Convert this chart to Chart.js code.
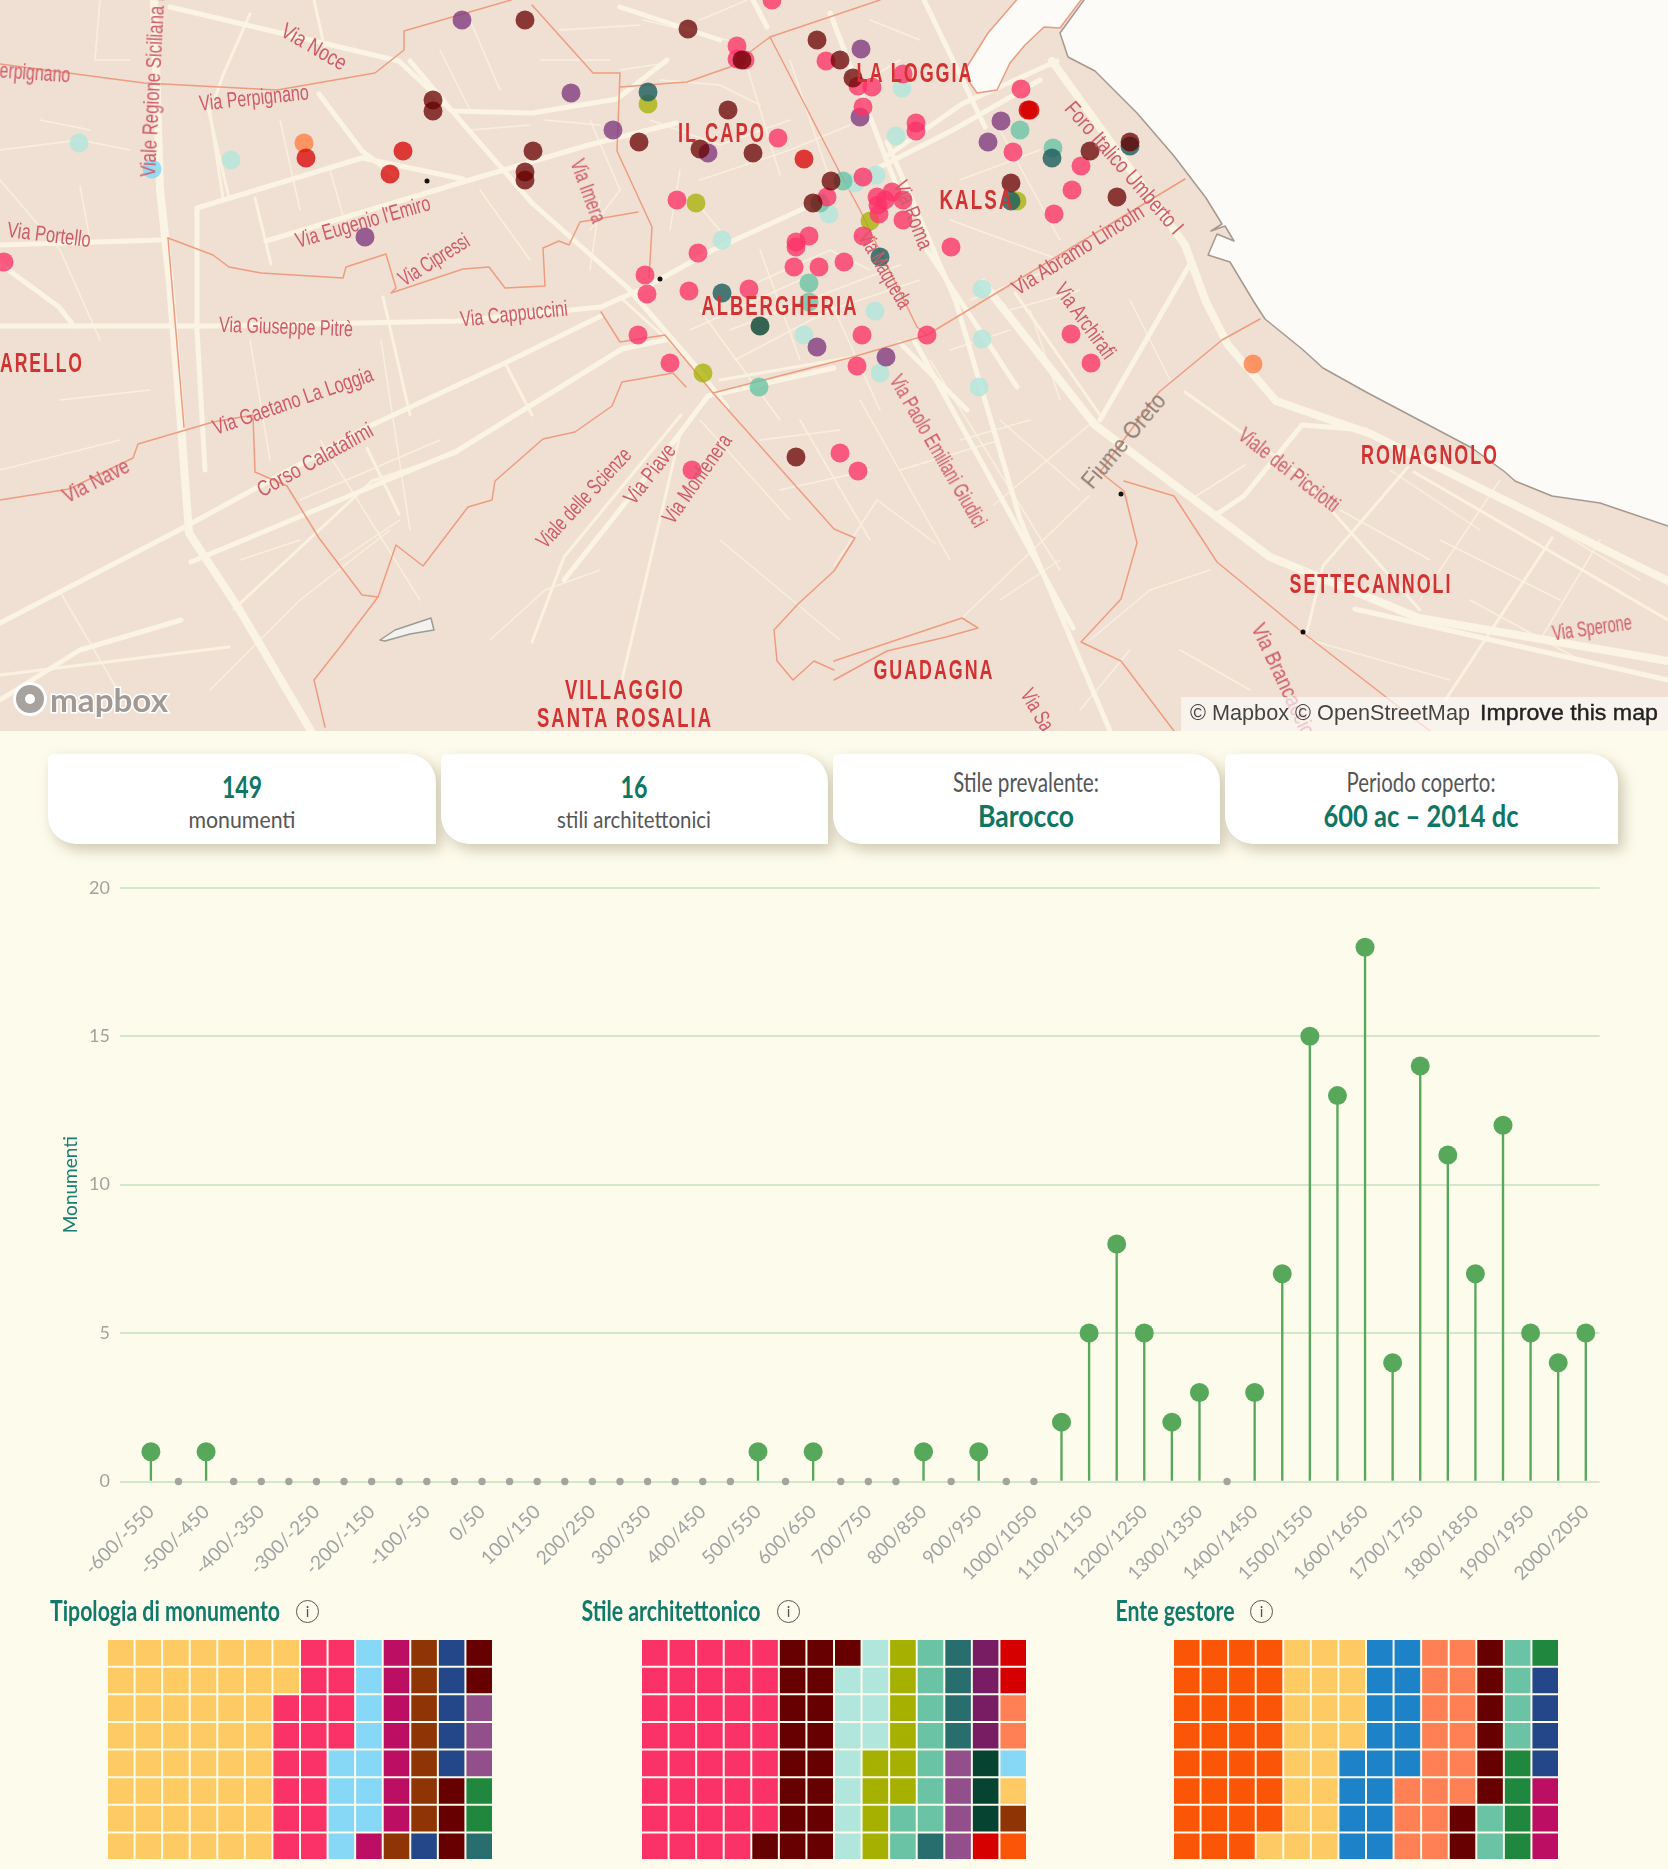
<!DOCTYPE html>
<html lang="it">
<head>
<meta charset="utf-8">
<title>Monumenti di Palermo</title>
<script src="https://cdn.jsdelivr.net/npm/chart.js@4/dist/chart.umd.min.js"></script>
<style>
  html, body { margin: 0; padding: 0; background: #fdfbec; }
  #pagina { position: relative; width: 1668px; height: 1869px; overflow: hidden; background: #fdfbec; }
  #mappa { position: absolute; left: 0; top: 0; width: 1668px; height: 731px; overflow: hidden; background: #f0e0d3; }
  canvas { position: absolute; display: block; }
  .t { position: absolute; white-space: nowrap; line-height: 1; }
  .card { position: absolute; top: 754px; height: 90px; background: #fff; border-radius: 6px 28px 0 28px; box-shadow: 5px 6px 14px rgba(120,105,70,.35); }
  .info { position: absolute; width: 21px; height: 21px; border: 1.5px solid #555; border-radius: 50%; color: #555; font: 15px Lato; text-align: center; line-height: 21px; }
  #attrib { position: absolute; left: 1181px; top: 697px; width: 487px; height: 34px; background: rgba(255,255,255,.62); }
  #logo { position: absolute; left: 13px; top: 682px; width: 34px; height: 34px; border-radius: 50%; background: #a9a39f; border: 3px solid #fff; box-sizing: border-box; }
  #logo:after { content: ""; position: absolute; left: 9px; top: 9px; width: 10px; height: 10px; background: #fff; border-radius: 50%; }
</style>
</head>
<body>
<div id="pagina">
  <div id="mappa">
    <canvas id="graficoMappa" width="1668" height="731" style="left:0;top:0"></canvas>
    <div id="logo"></div>
    <div id="attrib"></div>
  </div>
  <div class="card" style="left:48px;width:388px"></div>
  <div class="card" style="left:441px;width:387px"></div>
  <div class="card" style="left:833px;width:387px"></div>
  <div class="card" style="left:1225px;width:393px"></div>
  <canvas id="graficoSecoli" width="1573" height="734" style="left:40px;top:867px"></canvas>
  <canvas id="wafTipologia" width="386" height="221" style="left:107px;top:1639px"></canvas>
  <canvas id="wafStile" width="386" height="221" style="left:641px;top:1639px"></canvas>
  <canvas id="wafEnte" width="386" height="221" style="left:1173px;top:1639px"></canvas>
  <div class="info" style="left:296px;top:1600px">i</div>
  <div class="info" style="left:777px;top:1600px">i</div>
  <div class="info" style="left:1250px;top:1600px">i</div>
</div>
<script>
// --- dati lollipop ---
const periodi = ['-600/-550','-550/-500','-500/-450','-450/-400','-400/-350','-350/-300','-300/-250','-250/-200','-200/-150','-150/-100','-100/-50','-50/0','0/50','50/100','100/150','150/200','200/250','250/300','300/350','350/400','400/450','450/500','500/550','550/600','600/650','650/700','700/750','750/800','800/850','850/900','900/950','950/1000','1000/1050','1050/1100','1100/1150','1150/1200','1200/1250','1250/1300','1300/1350','1350/1400','1400/1450','1450/1500','1500/1550','1550/1600','1600/1650','1650/1700','1700/1750','1750/1800','1800/1850','1850/1900','1900/1950','1950/2000','2000/2050'];
const monumenti = [1,0,1,0,0,0,0,0,0,0,0,0,0,0,0,0,0,0,0,0,0,0,1,0,1,0,0,0,1,0,1,0,0,2,5,8,5,2,3,0,3,7,15,13,18,4,14,11,7,12,5,4,5];
const tickY = [0,5,10,15,20];

// --- dati waffle ---
const tipologiaConteggi = [50,18,11,8,8,6,5,3,2,1];
const tipologiaColori = ['#fdca63','#fb3268','#87d8f7','#bc0f64','#8e3405','#24478a','#670000','#924f8c','#1f883e','#296e6f'];
const stileConteggi = [39,18,11,10,9,5,4,4,3,3,2,1,1,1,1];
const stileColori = ['#fb3268','#670000','#b0e6dc','#a6b000','#6ac3a5','#296e6f','#924f8c','#781c64','#064331','#d70000','#ff8055','#87d8f7','#fdca63','#8e3405','#fb5607'];
const enteConteggi = [31,21,17,17,8,6,5,4,3];
const enteColori = ['#fb5607','#fdca63','#1e82c8','#ff8055','#670000','#6ac3a5','#1f883e','#24478a','#bc0f64'];

// --- punti mappa per stile ---
const puntiMarrone = [[525,20],[688,29],[817,40],[742,60],[840,60],[853,78],[728,110],[639,142],[700,149],[753,153],[533,151],[433,100],[433,111],[525,172],[525,180],[831,181],[813,203],[1011,183],[1090,151],[1130,142],[1117,197],[796,457]];
const puntiRosa = [[772,0],[737,46],[737,59],[745,60],[826,61],[858,86],[872,87],[903,74],[863,107],[916,123],[916,131],[1021,89],[1013,152],[778,138],[863,177],[827,197],[677,200],[1081,166],[1072,190],[1054,214],[951,247],[878,205],[879,214],[903,220],[877,197],[892,192],[903,200],[885,200],[863,236],[809,236],[796,242],[796,247],[794,267],[819,267],[844,262],[698,253],[645,275],[647,294],[689,291],[749,289],[638,335],[670,363],[862,335],[927,335],[857,366],[4,262],[692,470],[1071,334],[1091,363],[840,453],[858,471]];
const puntiRosso = [[403,151],[390,174],[306,158],[804,159]];
const puntiRossoCupo = [[1030,110],[1028,110]];
const puntiCorallo = [[304,143],[1253,364]];
const puntiViola = [[462,20],[571,93],[613,130],[365,237],[708,153],[861,49],[1001,121],[988,142],[817,347],[886,357],[860,117]];
const puntiOttanio = [[648,92],[722,293],[880,257],[1052,158],[1011,201],[1130,146]];
const puntiVerdeScuro = [[760,326]];
const puntiOliva = [[648,104],[696,203],[703,373],[870,221],[1017,201]];
const puntiMarino = [[809,283],[809,302],[759,387],[843,181],[1053,148],[1020,130],[820,203]];
const puntiAcqua = [[79,143],[231,160],[722,240],[829,214],[902,88],[896,136],[876,175],[855,183],[875,311],[804,335],[880,373],[979,387],[982,289],[982,339]];
const puntiCielo = [[152,169]];
const puntiNeri = [[427,181],[660,279],[1121,494],[1303,632]];

// --- geografia ---
const mare = [[1084,0],[1060,33],[1068,57],[1095,71],[1137,113],[1174,156],[1206,198],[1222,224],[1211,231],[1225,226],[1234,241],[1217,234],[1208,255],[1230,262],[1254,302],[1265,319],[1302,349],[1323,368],[1366,392],[1419,420],[1472,448],[1505,472],[1515,481],[1552,496],[1600,503],[1668,526],[1672,526],[1672,-4],[1084,-4]];
const porto = [[1020,-4],[988,33],[963,73],[977,93],[997,90],[1010,63],[1025,45],[1044,27],[1060,28],[1084,-4]];
const laghetto = [[380,640],[395,630],[431,618],[434,630],[410,634],[385,641]];
const stradeGrandi = [
  [[154,0],[160,189],[170,283],[181,425],[189,533],[239,609],[311,731]],
  [[983,283],[1095,425],[1270,557],[1419,618],[1668,661]],
  [[1052,61],[1185,245],[1206,302],[1228,345],[1276,401],[1371,434],[1668,581]]
];
const stradeMedie = [
  [[0,326],[213,326],[458,321],[601,307],[644,288],[713,250],[807,207]],
  [[0,623],[181,529],[372,425],[505,363],[601,316]],
  [[191,562],[457,451],[622,349],[665,340]],
  [[170,7],[399,61],[452,111],[532,113],[617,99],[667,60]],
  [[410,61],[452,111],[532,203],[628,288],[693,363],[727,407]],
  [[205,470],[197,330],[197,208],[362,158],[463,179]],
  [[266,241],[463,182],[585,146],[676,123]],
  [[564,580],[665,453],[708,396],[834,368]],
  [[887,156],[962,104],[1057,61]],
  [[880,167],[953,130],[1040,80]],
  [[887,142],[956,302],[1020,519],[1110,731]],
  [[924,0],[985,127]],
  [[914,340],[1073,628]],
  [[1100,420],[1190,264]],
  [[1217,514],[1244,496],[1302,425],[1366,430]],
  [[620,7],[720,40]],[[753,0],[767,27]],[[830,13],[897,187]],[[900,343],[967,410]],[[927,250],[1017,387]],
  [[0,700],[80,650],[181,620]],
  [[319,94],[362,151],[394,175]],[[0,245],[160,240]],[[0,264],[59,307],[74,326]],
  [[1355,609],[1668,680]]
];
const stradeStrette = [
  [[383,297],[410,415]],[[505,363],[532,415]],[[207,104],[229,198]],[[255,198],[271,264]],[[314,0],[325,50]],
  [[250,14],[223,75],[210,113],[223,198]],[[234,609],[372,481],[457,453]],[[399,514],[367,448]],[[0,675],[229,647]],
  [[1015,293],[1100,415]],[[532,642],[564,557],[681,415]],[[622,680],[681,430]],[[1185,392],[1297,472],[1420,610]],
  [[1408,467],[1323,566],[1307,632]],[[1552,538],[1446,699]],[[1414,472],[1668,620]],[[720,380],[853,357]],[[620,297],[693,363]]
];
const stradePiccole = [
  [[700,20],[747,0]],[[643,20],[727,40]],[[620,70],[667,63]],[[703,210],[730,243]],
  [[381,340],[410,530]],[[250,340],[270,460]],[[320,440],[420,600]],
  [[0,180],[60,250],[100,340]],[[300,500],[440,440]],[[60,400],[150,390]],[[0,470],[120,440]],
  [[390,530],[300,600],[210,690]],[[490,640],[545,590],[600,570]],[[720,540],[840,640]],
  [[660,80],[720,85],[760,105]],[[650,120],[720,145],[790,120]],[[700,180],[790,150],[850,125]],
  [[670,230],[680,170]],[[745,60],[780,175]],[[790,60],[830,180]],[[850,90],[900,60]],[[920,40],[870,20]],
  [[740,290],[830,250],[870,270]],[[730,330],[900,265]],[[735,360],[830,310],[920,280]],[[760,250],[800,360]],
  [[700,310],[780,420]],[[830,300],[880,410]],[[960,180],[1040,150]],[[950,220],[1060,260]],[[1000,130],[1060,240]],
  [[970,300],[1050,270]],[[1010,310],[1080,290]],[[1000,420],[1080,490]],[[860,400],[950,560]],[[930,360],[1060,570]],
  [[1090,640],[1150,590],[1210,570]],[[1180,650],[1250,690]],[[1440,540],[1560,600]],[[1500,480],[1420,600]],
  [[1600,540],[1540,640]],[[1310,640],[1450,680]],[[340,560],[400,520]],[[240,560],[300,540]],[[590,230],[620,190],[590,120]],
  [[80,186],[90,240]],[[0,150],[80,140],[130,150]],[[40,120],[90,130]],[[100,0],[95,60],[130,60]],[[280,120],[300,210]],[[330,170],[350,240]],
  [[59,590],[117,689]],[[877,500],[935,543]],[[877,500],[834,566]],[[994,505],[1095,420]],[[962,618],[1089,496]],[[480,190],[530,260]],
  [[560,30],[640,25]],[[540,60],[610,60]],[[470,20],[500,90]],[[440,50],[470,110]],[[545,120],[600,125]],[[470,130],[530,125]],
  [[600,200],[590,270]],[[690,330],[800,280]],[[700,420],[790,520]],[[800,420],[870,540]],[[760,440],[840,430]],[[780,490],[870,470]],
  [[960,440],[1030,420]],[[900,470],[1000,440]],[[950,350],[1010,330]],[[1030,310],[1060,400]],[[1130,300],[1170,380]],[[1190,500],[1245,465]],
  [[1340,510],[1430,560]],[[1390,470],[1480,530]],[[1470,600],[1580,660]],[[1540,520],[1640,580]],[[1080,710],[1130,650]],[[1000,600],[1060,560]]
];
const confini = [
  [[0,64],[144,83],[277,90],[375,73],[404,50],[404,31],[511,0]],
  [[532,5],[593,73],[620,73],[617,151],[652,227],[649,278]],
  [[620,87],[687,82],[730,67],[770,37],[880,0]],
  [[770,37],[840,173],[860,210],[917,327],[927,335]],
  [[713,393],[853,357],[927,335],[1013,283],[1185,179]],
  [[601,312],[620,342],[665,335],[713,393],[834,529],[855,538],[834,571],[798,604],[774,630],[777,661],[793,680],[814,661],[834,670]],
  [[168,238],[213,255],[229,267],[261,273],[343,278],[346,267],[386,254],[396,288],[391,293],[463,269],[489,267],[505,288],[545,286],[543,248],[559,241],[569,245],[580,222],[638,212]],
  [[168,238],[184,427]],
  [[0,500],[69,489],[133,458],[138,444],[213,422],[253,415],[255,472],[287,486],[319,538],[362,595],[378,597],[340,647],[314,680],[325,727]],
  [[378,597],[396,545],[423,566],[468,507],[492,500],[495,481],[543,439],[575,432],[612,406],[622,382],[673,373],[686,387]],
  [[1260,319],[1222,340],[1159,392],[1100,472],[1124,491],[1137,543],[1121,599],[1081,642],[1121,661],[1174,731]],
  [[1124,481],[1174,496],[1217,562],[1302,632],[1430,731]],
  [[834,661],[962,618],[978,628],[946,637],[887,651],[834,680]]
];

// --- etichette: testo, centro x, centro y, larghezza, angolo ---
const quartieri = [['ARELLO',42,363,84,0],['IL CAPO',722,133,88,0],['LA LOGGIA',915,73,117,0],['KALSA',977,200,75,0],['ALBERGHERIA',780,306,157,0],['ROMAGNOLO',1430,455,138,0],['SETTECANNOLI',1371,584,163,0],['GUADAGNA',934,670,121,0],['VILLAGGIO',625,690,120,0],['SANTA ROSALIA',625,718,176,0]];
const vie = [['erpignano',35,73,71,4],['Via Noce',314,47,72,30],['Viale Regione Siciliana M',153,82,190,-87],['Via Perpignano',254,98,110,-6],['Via Portello',49,235,84,7],["Via Eugenio l'Emiro",363,222,139,-16],['Via Cipressi',434,260,79,-32],['Via Imera',588,191,66,70],['Via Giuseppe Pitrè',286,327,134,2],['Via Cappuccini',514,314,108,-6],['Via Gaetano La Loggia',293,401,168,-19],['Via Nave',96,481,72,-27],['Corso Calatafimi',315,460,129,-29],['Viale delle Scienze',584,498,128,-47],['Via Piave',650,474,70,-52],['Via Monfenera',697,479,104,-55],['Via Roma',913,215,72,68],['Via Maqueda',885,270,85,60],['Foro Italico Umberto I',1124,168,168,49],['Via Abramo Lincoln',1078,250,151,-32],['Via Archirafi',1085,321,88,54],['Via Paolo Emiliani Giudici',938,451,172,60],['Viale dei Picciotti',1289,470,122,38],['Via Sperone',1592,628,80,-8],['Via Brancaccio',1283,680,122,65],['Via Sa',1037,710,45,60]];

// testo vero, posizionato per centro e adattato in larghezza
function testo(parent, str, cx, cy, larg, font, colore, angolo, extra) {
  const s = document.createElement('span');
  s.className = 't';
  s.textContent = str;
  s.style.font = font;
  s.style.color = colore;
  if (extra) Object.assign(s.style, extra);
  parent.appendChild(s);
  const k = larg / s.getBoundingClientRect().width;
  s.style.left = cx + 'px';
  s.style.top = cy + 'px';
  s.style.transform = `translate(-50%,-50%) rotate(${angolo || 0}deg) scaleX(${k})`;
  return s;
}

const pagina = document.getElementById('pagina');
const mappaDiv = document.getElementById('mappa');
const attrib = document.getElementById('attrib');

vie.forEach(v => testo(mappaDiv, v[0], v[1], v[2], v[3], "22px 'Liberation Sans Narrow','Liberation Sans'", '#cf5a69', v[4]));
testo(mappaDiv, 'Fiume Oreto', 1124, 441, 116, "23px 'Liberation Sans Narrow','Liberation Sans'", '#8b7b72', -50);
quartieri.forEach(q => testo(mappaDiv, q[0], q[1], q[2], q[3], "bold 27px 'Liberation Sans Narrow','Liberation Sans'", '#d23232', q[4], { letterSpacing: '3px' }));
testo(mappaDiv, 'mapbox', 109, 699, 118, 'bold 33px Lato', '#a09a96', 0, { webkitTextStroke: '3px #fff', paintOrder: 'stroke fill' });
mappaDiv.appendChild(attrib);
testo(mappaDiv, '© Mapbox © OpenStreetMap', 1330, 713, 280, "22px 'Liberation Sans'", '#444', 0);
testo(mappaDiv, 'Improve this map', 1569, 713, 178, "22px 'Liberation Sans'", '#222', 0, { webkitTextStroke: '.4px #222' });

// card riassuntive
const verde = '#0f7663', grigioCard = '#565656';
testo(pagina, '149', 242, 786, 40, 'bold 30px Lato', verde);
testo(pagina, 'monumenti', 242, 819, 107, '23px Lato', grigioCard);
testo(pagina, '16', 634, 786, 27, 'bold 30px Lato', verde);
testo(pagina, 'stili architettonici', 634, 818, 154, '24px Lato', grigioCard);
testo(pagina, 'Stile prevalente:', 1026, 782, 146, '26px Lato', grigioCard);
testo(pagina, 'Barocco', 1026, 815, 96, 'bold 30px Lato', verde);
testo(pagina, 'Periodo coperto:', 1421, 782, 149, '26px Lato', grigioCard);
testo(pagina, '600 ac – 2014 dc', 1421, 815, 195, 'bold 30px Lato', verde);

// titoli waffle
testo(pagina, 'Tipologia di monumento', 165, 1609, 230, 'bold 29px Lato', '#137a6b');
testo(pagina, 'Stile architettonico', 671, 1609, 179, 'bold 29px Lato', '#137a6b');
testo(pagina, 'Ente gestore', 1175, 1609, 119, 'bold 29px Lato', '#137a6b');

// --- mappa ---
function linea(punti, colore, spessore) {
  return { type: 'scatter', showLine: true, data: punti.map(([x, y]) => ({ x, y })), borderColor: colore, borderWidth: spessore, pointRadius: 0, tension: 0, borderCapStyle: 'round', borderJoinStyle: 'round', fill: false };
}
function area(punti, colore, bordo) {
  const d = linea(punti.concat([punti[0]]), bordo, 1.5);
  d.fill = 'shape';
  d.backgroundColor = colore;
  return d;
}
function punti(lista, colore, raggio) {
  return { type: 'scatter', showLine: false, data: lista.map(([x, y]) => ({ x, y })), backgroundColor: colore, pointRadius: raggio, pointBorderWidth: 0 };
}
const strati = [
  ...stradePiccole.map(s => linea(s, '#f8efde', 1.5)),
  ...stradeStrette.map(s => linea(s, '#faf1e0', 3)),
  ...stradeMedie.map(s => linea(s, '#fbf3e3', 5)),
  ...stradeGrandi.map(s => linea(s, '#fbf3e3', 8)),
  area(mare, '#fcfbf8', '#a5988f'),
  area(porto, '#fcfbf8', '#ea9b80'),
  area(laghetto, '#f4f2ee', '#9b9b96'),
  ...confini.map(s => linea(s, '#ee9c80', 1.5)),
  punti(puntiNeri, '#111', 2.5),
  punti(puntiCielo, 'rgba(135,216,247,.85)', 9.5),
  punti(puntiAcqua, 'rgba(176,230,220,.8)', 9.5),
  punti(puntiMarino, 'rgba(106,195,165,.8)', 9.5),
  punti(puntiOliva, 'rgba(166,176,0,.75)', 9.5),
  punti(puntiCorallo, 'rgba(255,128,70,.8)', 9.5),
  punti(puntiViola, 'rgba(125,55,125,.78)', 9.5),
  punti(puntiRosa, 'rgba(251,50,104,.78)', 9.5),
  punti(puntiOttanio, 'rgba(30,95,95,.82)', 9.5),
  punti(puntiVerdeScuro, 'rgba(6,67,49,.8)', 9.5),
  punti(puntiRosso, 'rgba(215,0,0,.75)', 9.5),
  punti(puntiRossoCupo, 'rgba(215,0,0,.85)', 9.5),
  punti(puntiMarrone, 'rgba(103,0,0,.75)', 9.5)
];
new Chart(document.getElementById('graficoMappa'), {
  type: 'scatter',
  data: { datasets: strati.reverse() },
  options: {
    responsive: false, animation: false,
    layout: { padding: 0, autoPadding: false },
    plugins: { legend: { display: false }, tooltip: { enabled: false } },
    scales: {
      x: { type: 'linear', min: 0, max: 1668, display: false },
      y: { type: 'linear', min: 0, max: 731, reverse: true, display: false }
    }
  }
});

// --- lollipop ---
const fontAssi = { family: 'Lato', size: 19 };
const puntiSecoli = monumenti.map((v, i) => ({ x: i, y: v }));
new Chart(document.getElementById('graficoSecoli'), {
  data: {
    datasets: [
      {
        type: 'line', showLine: false, data: puntiSecoli, clip: false,
        pointRadius: ctx => ctx.raw.y > 0 ? 9.5 : 3.7,
        pointBackgroundColor: ctx => ctx.raw.y > 0 ? '#58a85c' : '#a5a5a0',
        pointBorderWidth: 0
      },
      {
        type: 'bar', data: puntiSecoli, barThickness: 1.7, backgroundColor: '#58a85c'
      }
    ]
  },
  options: {
    responsive: false, animation: false,
    layout: { padding: { top: 17, right: 10, left: 0, bottom: 0 }, autoPadding: false },
    plugins: { legend: { display: false }, tooltip: { enabled: false } },
    scales: {
      x: {
        type: 'linear', min: -1.12, max: 52.5, offset: false,
        grid: { display: false }, border: { display: false },
        ticks: {
          stepSize: 2, includeBounds: false, autoSkip: false, minRotation: 45, maxRotation: 45,
          padding: 11, color: '#a0a4a4', font: fontAssi,
          callback: v => periodi[v]
        },
        afterFit: s => { s.height = 119.5; }
      },
      y: {
        min: 0, max: 20,
        grid: { color: '#d3e7cb', lineWidth: 2, drawTicks: false },
        border: { display: false },
        afterBuildTicks: s => { s.ticks = tickY.map(value => ({ value })); },
        ticks: { padding: 10, color: '#a3a39e', font: { family: 'Lato', size: 18 } },
        title: { display: true, text: 'Monumenti', color: '#1a7f70', font: { family: 'Lato', size: 19 }, padding: { top: 19, bottom: 0 } },
        afterFit: s => { s.width = 80; }
      }
    }
  }
});

// --- waffle: 14 colonne x 8 righe, riempite per colonna dall'alto ---
const colonne = Array.from({ length: 14 }, (_, i) => i + 1);
const righe = [0, 1, 2, 3, 4, 5, 6, 7];
function creaWaffle(id, conteggi, colori) {
  const seq = [];
  conteggi.forEach((n, i) => { for (let k = 0; k < n; k++) seq.push(colori[i]); });
  new Chart(document.getElementById(id), {
    type: 'bar',
    data: {
      labels: colonne,
      datasets: righe.map(r => ({
        data: colonne.map(() => 1),
        backgroundColor: colonne.map((c, i) => seq[i * 8 + r]),
        borderColor: '#fdfbec', borderWidth: 1, borderSkipped: false, inflateAmount: 0,
        barPercentage: 1, categoryPercentage: 1
      }))
    },
    options: {
      responsive: false, animation: false,
      layout: { padding: 0 },
      plugins: { legend: { display: false }, tooltip: { enabled: false } },
      scales: {
        x: { stacked: true, display: false },
        y: { stacked: true, display: false, min: 0, max: 8, reverse: true }
      }
    }
  });
}
creaWaffle('wafTipologia', tipologiaConteggi, tipologiaColori);
creaWaffle('wafStile', stileConteggi, stileColori);
creaWaffle('wafEnte', enteConteggi, enteColori);
</script>
</body>
</html>
